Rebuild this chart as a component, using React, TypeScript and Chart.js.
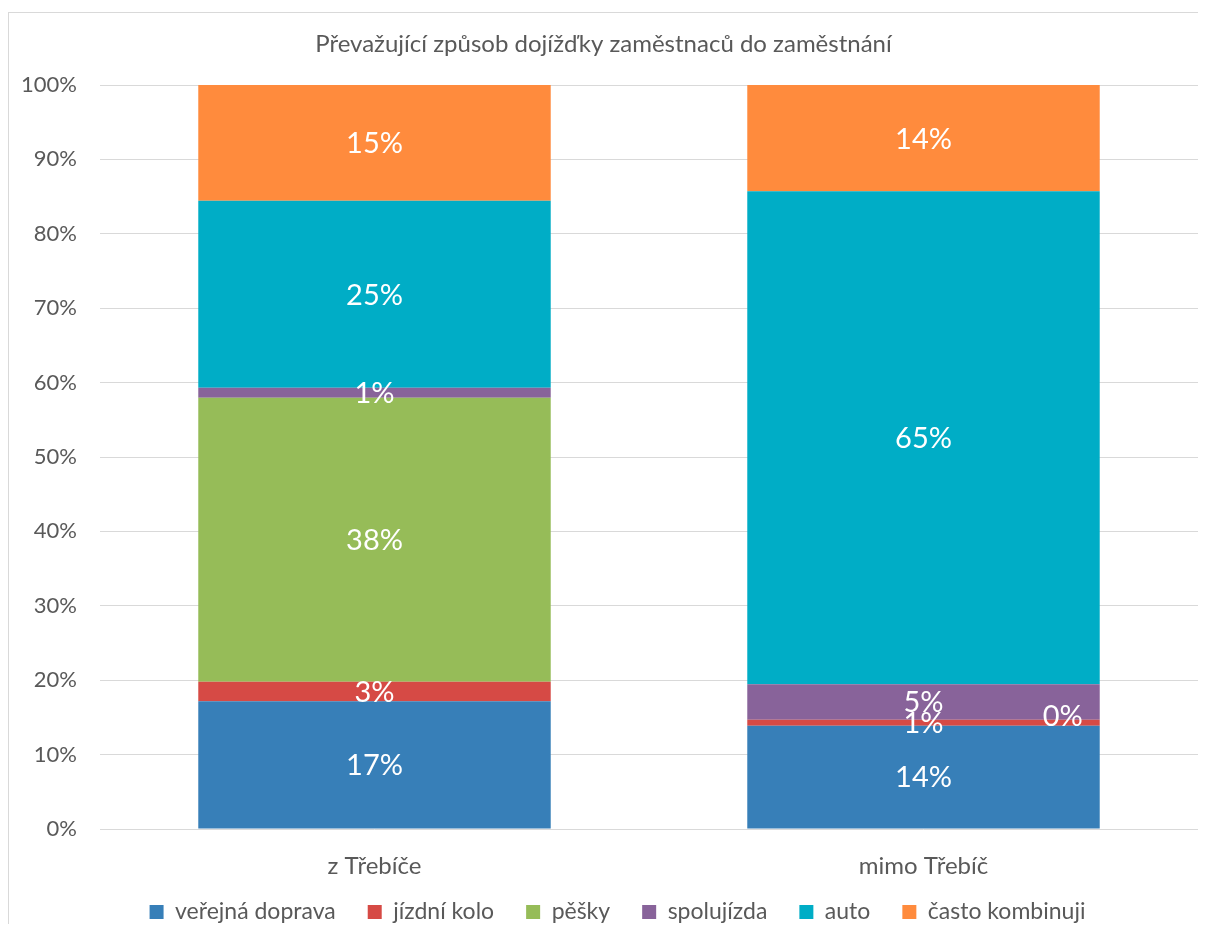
import React, { useEffect, useRef } from "react";
import { Chart, registerables } from "chart.js";

Chart.register(...registerables);

const titleText = "Převažující způsob dojížďky zaměstnaců do zaměstnání";
const categories = ["z Třebíče", "mimo Třebíč"];
const seriesNames = ["veřejná doprava", "jízdní kolo", "pěšky", "spolujízda", "auto", "často kombinuji"];
const seriesColors = ["#377FB8", "#D64A45", "#96BC58", "#88639A", "#00ADC6", "#FF8B3D"];
const verejnaDoprava = [17.0, 13.7];
const jizdniKolo = [2.6, 0.8];
const pesky = [37.8, 0];
const spolujizda = [1.3, 4.7];
const auto = [24.9, 65.4];
const castoKombinuji = [15.4, 14.1];
const yMax = 100;
const yStep = 10;

const rawSeries = [verejnaDoprava, jizdniKolo, pesky, spolujizda, auto, castoKombinuji];

const FONT = "Lato, 'Open Sans', sans-serif";
const TEXT = "#595959";

const dataLabelPlugin = {
  id: "dataLabels",
  afterDatasetsDraw(chart: any) {
    const ctx = chart.ctx;
    ctx.save();
    ctx.fillStyle = "#ffffff";
    ctx.font = `29px ${FONT}`;
    ctx.textAlign = "center";
    ctx.textBaseline = "middle";
    chart.data.datasets.forEach((ds: any, di: number) => {
      const meta = chart.getDatasetMeta(di);
      meta.data.forEach((el: any, i: number) => {
        const raw = ds.raw[i];
        const label = Math.round(raw) + "%";
        const props = el.getProps(["x", "y", "base", "width"], true);
        if (raw === 0) {
          ctx.fillText(label, props.x + props.width * 0.395, props.y - 3);
        } else {
          ctx.fillText(label, props.x, (props.y + props.base) / 2 + 1);
        }
      });
    });
    ctx.restore();
  },
};

// nudges the legend box so it sits where the reference legend sits
const legendShiftPlugin = {
  id: "legendShift",
  afterLayout(chart: any) {
    const lg = chart.legend;
    if (!lg) return;
    lg.top -= 12.5;
    lg.bottom -= 12.5;
    lg.left += 14;
    lg.right += 14;
  },
};

export default function App() {
  const canvasRef = useRef<HTMLCanvasElement | null>(null);

  useEffect(() => {
    const canvas = canvasRef.current;
    if (!canvas) return;
    const totals = categories.map((_, i) => rawSeries.reduce((s, arr) => s + arr[i], 0));
    const chart = new Chart(canvas, {
      type: "bar",
      data: {
        labels: categories,
        datasets: seriesNames.map((name, si) => ({
          label: name,
          data: rawSeries[si].map((v, i) => (v / totals[i]) * 100),
          raw: rawSeries[si],
          backgroundColor: seriesColors[si],
          borderWidth: 0,
          barPercentage: 0.642,
          categoryPercentage: 1,
        })) as any,
      },
      options: {
        responsive: false,
        animation: false,
        devicePixelRatio: 1,
        layout: { padding: { left: 0, right: 20, top: 0, bottom: 27 } },
        scales: {
          x: {
            stacked: true,
            grid: { display: false, drawTicks: false },
            border: { display: false },
            ticks: { color: TEXT, font: { family: FONT, size: 24 }, padding: 22.6 },
            afterFit: (s: any) => {
              s.height = 52;
            },
          },
          y: {
            stacked: true,
            min: 0,
            max: yMax,
            grid: { color: "#D9D9D9", lineWidth: 1, drawTicks: false },
            border: { display: false },
            ticks: {
              stepSize: yStep,
              color: TEXT,
              font: { family: FONT, size: 22 },
              padding: 23,
              callback: (v: any) => v + "%",
            },
            afterFit: (s: any) => {
              s.width = 91;
            },
          },
        },
        plugins: {
          title: {
            display: true,
            text: titleText,
            color: TEXT,
            font: { family: FONT, size: 24, weight: "normal" },
            padding: { top: 16.6, bottom: 26.6 },
          },
          legend: {
            position: "bottom",
            labels: {
              boxWidth: 14,
              boxHeight: 14,
              color: TEXT,
              font: { family: FONT, size: 23 },
              padding: 32,
            },
          },
          tooltip: { enabled: false },
        },
      } as any,
      plugins: [dataLabelPlugin, legendShiftPlugin],
    });
    return () => chart.destroy();
  }, []);

  return (
    <div
      style={{
        position: "relative",
        top: 4,
        width: 1198,
        height: 916,
        overflow: "hidden",
        borderLeft: "1px solid #D9D9D9",
        borderTop: "1px solid #D9D9D9",
        boxSizing: "border-box",
        background: "#ffffff",
      }}
    >
      <canvas ref={canvasRef} width={1209} height={960} style={{ display: "block" }} />
    </div>
  );
}
